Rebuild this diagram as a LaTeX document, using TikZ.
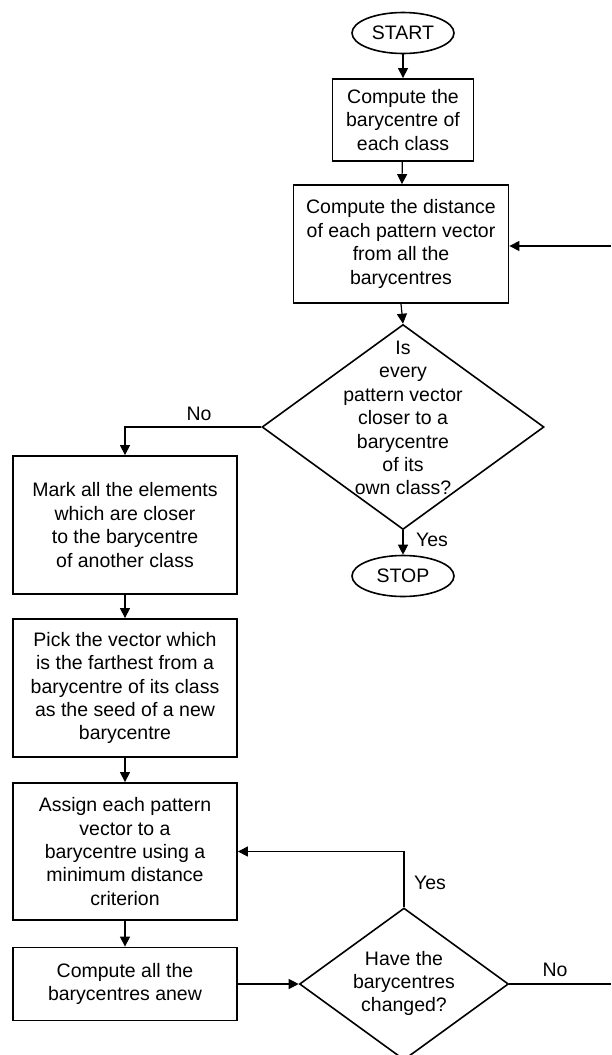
\documentclass[tikz,border=0pt]{standalone}
\usepackage{fontspec}
\setmainfont{Liberation Sans}
\usetikzlibrary{shapes.geometric,arrows.meta,positioning}

\newcommand{\flowfont}{\fontsize{19.5}{23.4}\selectfont}

\tikzset{
  procbox/.style={draw, line width=1.8pt, align=center, inner sep=0pt, font=\flowfont},
  termnode/.style={draw, ellipse, line width=1.6pt, minimum width=102pt, minimum height=41pt, inner sep=0pt, font=\flowfont},
  testnode/.style={draw, diamond, line width=1.6pt, inner sep=0pt},
  flowtext/.style={align=center, inner sep=0pt, font=\flowfont},
  link/.style={line width=1.2pt, -{Triangle[length=10pt,width=10pt]}},
  plainlink/.style={line width=1.2pt}
}

\begin{document}
\begin{tikzpicture}[x=1pt,y=-1pt]
\useasboundingbox (0,0) rectangle (611,1055);

% Define coordinates for easier positioning
\coordinate (rb) at (611,246);
\coordinate (rn) at (611,984);

% Draw the start and stop
\node[termnode] (start) at (403,33) {START};
\node[termnode] (stop) at (403,576) {STOP};

% Draw the boxes
\node[procbox, minimum width=141pt, minimum height=82pt] (bary) at (403,120)
  {Compute the\\barycentre of\\each class};
\node[procbox, minimum width=215pt, minimum height=118pt] (dist) at (401,244)
  {Compute the distance\\of each pattern vector\\from all the\\barycentres};
\node[procbox, minimum width=224pt, minimum height=138pt] (mark) at (125,525)
  {Mark all the elements\\which are closer\\to the barycentre\\of another class};
\node[procbox, minimum width=224pt, minimum height=138pt] (pick) at (125,688)
  {Pick the vector which\\is the farthest from a\\barycentre of its class\\as the seed of a new\\barycentre};
\node[procbox, minimum width=224pt, minimum height=137pt] (assign) at (125,851.5)
  {Assign each pattern\\vector to a\\barycentre using a\\minimum distance\\criterion};
\node[procbox, minimum width=224pt, minimum height=73pt] (anew) at (125,984)
  {Compute all the\\barycentres anew};

% Draw the decisions
\node[testnode, minimum width=282pt, minimum height=205pt] (closer) at (403,427) {};
\node[flowtext] (closertext) at (403,418)
  {Is\\every\\pattern vector\\closer to a\\barycentre\\of its\\own class?};
\node[testnode, minimum width=209pt, minimum height=152pt] (changed) at (404,984) {};
\node[flowtext] (changedtext) at (404,983.5)
  {Have the\\barycentres\\changed?};

% Draw the arrows
\draw[link] (start) -- (bary);
\draw[link] (bary) -- (dist);
\draw[link] (dist.south) -- (closer.north);
\draw[link] (closer.south) -- (stop.north);
\draw[link] (closer.west) -| (mark.north);
\draw[link] (mark) -- (pick);
\draw[link] (pick) -- (assign);
\draw[link] (assign) -- (anew);
\draw[link] (anew.east) -- (changed.west);
\draw[link] (changed.north) |- (assign.east);
\draw[plainlink] (changed.east) -- (rn);
\draw[link] (rb) -- (dist.east |- rb);

% Add labels
\node[flowtext] (nolab) at (199,414) {No};
\node[flowtext] (yeslab) at (432,540) {Yes};
\node[flowtext] (yesloop) at (430,883) {Yes};
\node[flowtext] (noloop) at (555,970) {No};
\end{tikzpicture}
\end{document}
